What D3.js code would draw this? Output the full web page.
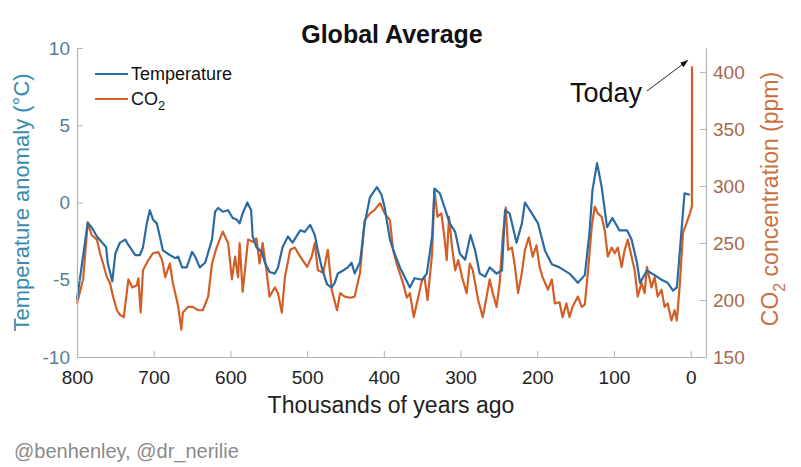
<!DOCTYPE html>
<html>
<head>
<meta charset="utf-8">
<script src="https://d3js.org/d3.v7.min.js"></script>
<style>
  body { margin: 0; background: #fff; }
  text { font-family: "Liberation Sans", Arial, Helvetica, sans-serif; }
</style>
</head>
<body>
<div id="chart"></div>
<script>
// temperature series (thousands of years ago, °C anomaly)
const tempAge = [800, 786, 781, 774, 767, 762, 760, 754, 750, 744, 737, 733, 724, 718, 714, 709, 705, 701, 696, 692,
  688, 679, 672, 668, 663, 657, 650, 646, 640, 633, 624, 620, 616, 610, 603, 597, 592, 588, 584, 578,
  573, 571, 566, 559, 555, 549, 542, 538, 532, 525, 519, 509, 503, 496, 490, 486, 481, 474, 468, 464,
  460, 453, 447, 442, 438, 431, 425, 418, 409, 403, 399, 392, 386, 379, 373, 366, 360, 350, 344, 337,
  334, 327, 321, 314, 307, 301, 294, 287, 281, 275, 268, 262, 253, 246, 242, 236, 227, 220, 216, 207,
  199, 190, 181, 171, 158, 147, 138, 132, 128, 122, 116, 109, 102, 93, 83, 77, 70, 66, 57, 47,
  38, 30, 23, 18, 14, 8, 1];
const tempValue = [-6.3, -1.3, -1.6, -2.2, -2.6, -2.9, -3.9, -5.1, -3.3, -2.6, -2.4, -2.75, -3.4, -3.4, -2.9, -1.35, -0.5, -1.1, -1.35, -2.2,
  -3.1, -3.4, -3.6, -3.5, -4.2, -4.2, -3.2, -3.5, -4.2, -3.9, -2.4, -0.6, -0.35, -0.6, -0.5, -1.0, -1.1, -1.35, -0.7, 0,
  -0.5, -2.2, -2.9, -3.2, -3.9, -4.5, -4.6, -4.2, -2.9, -2.2, -2.6, -1.8, -1.9, -1.45, -2.1, -3.1, -4.2, -5.3, -5.5, -5.2,
  -4.6, -4.4, -4.2, -3.9, -4.6, -3.85, -1.35, 0.35, 1.0, 0.5, -0.3, -2.4, -3.3, -4.2, -4.8, -5.5, -4.9, -5.0, -4.6, -2.2,
  0.9, 0.6, -0.3, -1.35, -1.9, -3.3, -3.7, -2.1, -3.1, -4.6, -4.8, -4.2, -4.6, -4.4, -0.5, -0.7, -2.6, -1.35, 0, -0.7,
  -1.35, -3.1, -4.0, -4.2, -4.6, -5.2, -4.7, -2.0, 0.8, 2.55, 1.0, -1.6, -1.0, -1.8, -1.8, -2.4, -3.9, -5.2, -4.4, -4.7,
  -5.0, -5.2, -5.7, -5.5, -3.1, 0.6, 0.5];

// CO2 series (thousands of years ago, ppm)
const co2Age = [800, 792, 786, 781, 774, 770, 766, 761, 757, 753, 748, 744, 739, 733, 728, 722, 720, 717, 714, 707,
  701, 694, 689, 685, 679, 675, 668, 664, 662, 655, 649, 642, 636, 629, 624, 618, 610, 603, 598, 594,
  590, 588, 584, 577, 571, 566, 562, 558, 553, 549, 542, 538, 533, 529, 522, 516, 509, 500, 494, 490,
  486, 479, 473, 468, 461, 457, 451, 444, 438, 431, 425, 418, 412, 405, 399, 392, 388, 382, 375, 370,
  366, 361, 356, 350, 347, 343, 337, 334, 330, 325, 321, 318, 315, 311, 307, 303, 298, 292, 288, 284,
  277, 271, 266, 262, 258, 253, 249, 245, 241, 238, 233, 229, 225, 220, 216, 211, 206, 201, 197, 193,
  186, 181, 177, 171, 167, 162, 158, 154, 147, 142, 138, 134, 129, 125, 121, 116, 112, 108, 103, 99,
  95, 90, 86, 82, 77, 73, 69, 64, 60, 57, 51, 47, 43, 38, 34, 30, 25, 21, 18, 14,
  10, 5, 1, -1.6, -1.8];
const co2Value = [197, 218, 268, 257, 253, 241, 232, 220, 215, 203, 191, 187, 185, 218, 211, 213, 219, 189, 226, 235,
  241, 242, 235, 220, 232, 215, 194, 174, 189, 194, 194, 191, 191, 203, 232, 246, 260, 250, 218, 238,
  220, 250, 207, 253, 251, 254, 232, 250, 226, 203, 211, 206, 189, 220, 244, 246, 238, 229, 238, 250,
  226, 224, 244, 209, 191, 206, 203, 202, 203, 224, 270, 276, 279, 285, 276, 270, 244, 229, 215, 202,
  206, 185, 200, 218, 220, 200, 241, 296, 273, 276, 255, 235, 273, 246, 226, 235, 220, 206, 232, 226,
  200, 185, 203, 218, 206, 194, 215, 255, 281, 244, 246, 229, 206, 224, 244, 255, 238, 248, 229, 220,
  209, 218, 197, 198, 185, 197, 185, 194, 203, 194, 196, 224, 264, 282, 276, 273, 261, 238, 246, 241,
  246, 229, 244, 253, 238, 226, 203, 215, 206, 229, 211, 220, 203, 209, 194, 197, 182, 191, 182, 215,
  259, 268, 276, 282, 405];

const xTicks = [800, 700, 600, 500, 400, 300, 200, 100, 0];
const tempTicks = [-10, -5, 0, 5, 10];
const co2Ticks = [150, 200, 250, 300, 350, 400];

const W = 801, H = 467;
const m = { left: 77, right: 95, top: 48, bottom: 110 };
const tempColor = "#2c6aa2", co2Color = "#d35f27";

const svg = d3.select("#chart").append("svg")
  .attr("width", W).attr("height", H);

const x = d3.scaleLinear().domain([800, -20]).range([m.left, W - m.right]);
const yT = d3.scaleLinear().domain([-10, 10]).range([H - m.bottom, m.top]);
const yC = d3.scaleLinear().domain([150, 421]).range([H - m.bottom, m.top]);

// lines
const lineT = d3.line().x(d => x(d[0])).y(d => yT(d[1]));
const lineC = d3.line().x(d => x(d[0])).y(d => yC(d[1]));

svg.append("path")
  .datum(co2Age.map((a, i) => [a, co2Value[i]]))
  .attr("d", lineC)
  .attr("fill", "none").attr("stroke", co2Color).attr("stroke-width", 2.2)
  .attr("stroke-linejoin", "round");

svg.append("path")
  .datum(tempAge.map((a, i) => [a, tempValue[i]]))
  .attr("d", lineT)
  .attr("fill", "none").attr("stroke", tempColor).attr("stroke-width", 2.2)
  .attr("stroke-linejoin", "round");

// axes (inward ticks, plain hyphen for negatives)
const plain = d => String(d);
function styleAxis(g, col) {
  g.select(".domain").attr("stroke", "#b4b4b4").attr("stroke-width", 1.2);
  g.selectAll(".tick line").attr("stroke", "#b4b4b4");
  g.selectAll(".tick text").attr("fill", col).style("font-size", "19px");
}

svg.append("g")
  .attr("transform", `translate(0,${H - m.bottom})`)
  .call(d3.axisBottom(x).tickValues(xTicks).tickFormat(plain).tickSize(-6).tickSizeOuter(0).tickPadding(14))
  .call(g => styleAxis(g, "#222"));

svg.append("g")
  .attr("transform", `translate(${m.left},0)`)
  .call(d3.axisLeft(yT).tickValues(tempTicks).tickFormat(plain).tickSize(-6).tickSizeOuter(0).tickPadding(7))
  .call(g => styleAxis(g, "#557f93"));

svg.append("g")
  .attr("transform", `translate(${W - m.right},0)`)
  .call(d3.axisRight(yC).tickValues(co2Ticks).tickFormat(plain).tickSize(-6).tickSizeOuter(0).tickPadding(7))
  .call(g => styleAxis(g, "#a5694e"));

// titles
svg.append("text")
  .attr("x", 392).attr("y", 43).attr("text-anchor", "middle")
  .style("font-size", "25px").style("font-weight", "bold").attr("fill", "#111")
  .text("Global Average");

svg.append("text")
  .attr("x", 391).attr("y", 413).attr("text-anchor", "middle")
  .style("font-size", "23px").attr("fill", "#222")
  .text("Thousands of years ago");

svg.append("text")
  .attr("transform", `translate(29,${(m.top + H - m.bottom) / 2}) rotate(-90)`)
  .attr("text-anchor", "middle")
  .style("font-size", "22px").attr("fill", "#3a8bb0")
  .text("Temperature anomaly (°C)");

const rl = svg.append("text")
  .attr("transform", `translate(778,199) rotate(-90)`)
  .attr("text-anchor", "middle")
  .style("font-size", "23px").attr("fill", "#c9713f");
rl.append("tspan").text("CO");
rl.append("tspan").attr("dy", 7).style("font-size", "16px").text("2");
rl.append("tspan").attr("dy", -7).text(" concentration (ppm)");

// legend
const legend = svg.append("g").attr("transform", "translate(95,74)");
legend.append("line").attr("x1", 0).attr("x2", 33).attr("y1", 0).attr("y2", 0)
  .attr("stroke", tempColor).attr("stroke-width", 2.2);
legend.append("text").attr("x", 36).attr("y", 6).style("font-size", "18px").attr("fill", "#111")
  .text("Temperature");
legend.append("line").attr("x1", 0).attr("x2", 33).attr("y1", 25).attr("y2", 25)
  .attr("stroke", co2Color).attr("stroke-width", 2.2);
const lt = legend.append("text").attr("x", 36).attr("y", 31).style("font-size", "18px").attr("fill", "#111");
lt.append("tspan").text("CO");
lt.append("tspan").attr("dy", 5).style("font-size", "13px").text("2");

// "Today" annotation
svg.append("defs").append("marker")
  .attr("id", "arrow").attr("viewBox", "0 0 10 10").attr("refX", 9).attr("refY", 5)
  .attr("markerWidth", 9).attr("markerHeight", 9).attr("orient", "auto")
  .append("path").attr("d", "M0,1.5 L10,5 L0,8.5 Z").attr("fill", "#111");

svg.append("text")
  .attr("x", 570).attr("y", 102)
  .style("font-size", "27px").attr("fill", "#111")
  .text("Today");

svg.append("line")
  .attr("x1", 647).attr("y1", 91).attr("x2", x(4)).attr("y2", yC(410))
  .attr("stroke", "#111").attr("stroke-width", 0.9)
  .attr("marker-end", "url(#arrow)");

// credits
svg.append("text")
  .attr("x", 14).attr("y", 458)
  .style("font-size", "20px").attr("fill", "#8a8a8a")
  .text("@benhenley, @dr_nerilie");
</script>
</body>
</html>
